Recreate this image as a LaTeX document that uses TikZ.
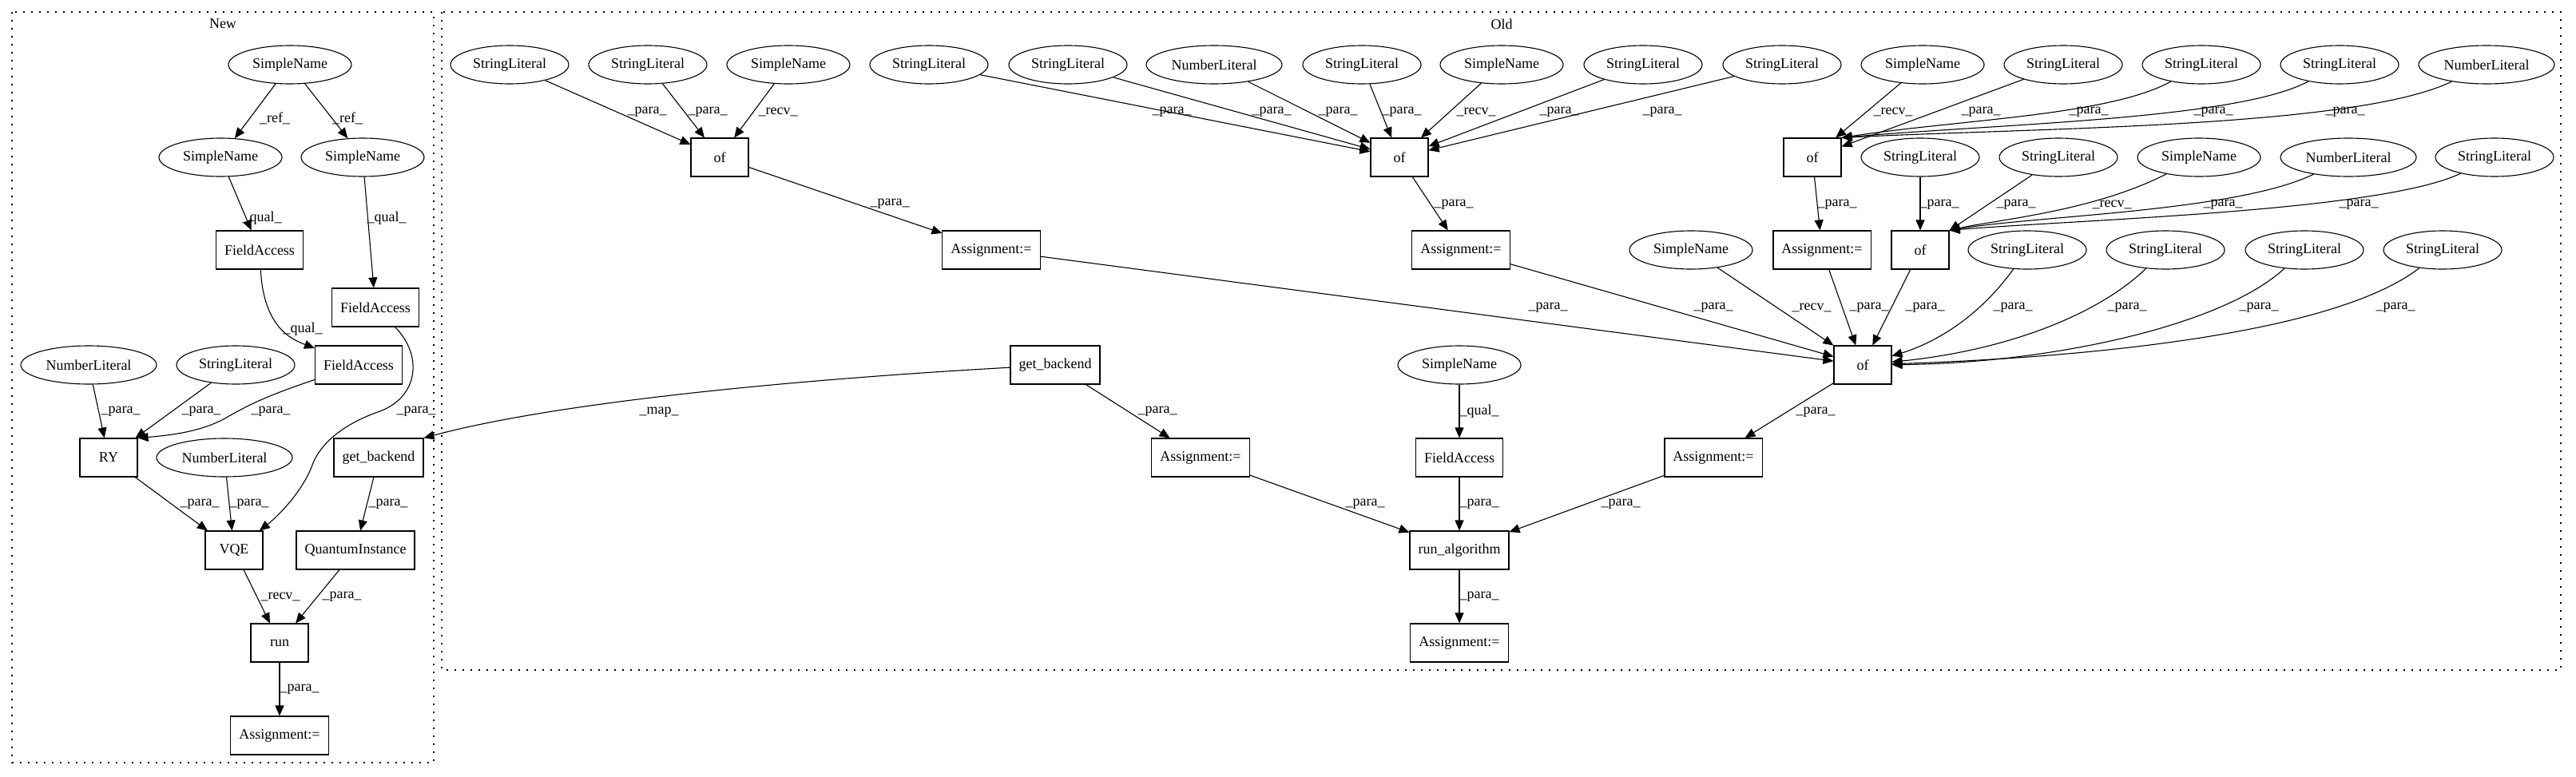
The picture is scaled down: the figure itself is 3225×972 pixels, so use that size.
\documentclass[tikz,border=0pt]{standalone}
\usepackage{fontspec}
\setmainfont{Liberation Serif}
\usetikzlibrary{shapes.geometric,arrows.meta}
\begin{document}
\begin{tikzpicture}[x=1pt,y=-1pt,
  every node/.style={font=\fontsize{18}{20}\selectfont},
  ell/.style={ellipse,draw,line width=1.1pt,minimum height=48pt,inner sep=0pt},
  sl/.style={ell,minimum width=148pt},
  sn/.style={ell,minimum width=154pt},
  nl/.style={ell,minimum width=170pt},
  box/.style={rectangle,draw,line width=1.1pt,minimum height=48pt,minimum width=72pt,inner xsep=10.5pt,inner ysep=0pt},
  edg/.style={line width=1.1pt,-{Triangle[length=13pt,width=11pt]}},
  lbl/.style={inner sep=0pt},
  clus/.style={line width=1.3pt,dash pattern=on 2pt off 8pt}
]
\fill[white] (0,0) rectangle (3225,972);
% clusters
\draw[clus] (15,15) rectangle (543,955);
\draw[clus] (553,15) rectangle (3206,839);
\node (newlbl) at (279,30) {New};
\node (oldlbl) at (1880,30) {Old};

% ---------- New ----------
\node[sn] (nsn0) at (363,81) {SimpleName};
\node[sn] (nsn1) at (276,197) {SimpleName};
\node[sn] (nsn2) at (454,197) {SimpleName};
\node[box] (nfa1) at (325,313) {FieldAccess};
\node[box] (nfa2) at (470,385) {FieldAccess};
\node[box] (nfa3) at (449,457) {FieldAccess};
\node[nl] (nnl1) at (111,457) {NumberLiteral};
\node[sl] (nsl1) at (295,457) {StringLiteral};
\node[box] (nry) at (136,573) {RY};
\node[nl] (nnl2) at (281,573) {NumberLiteral};
\node[box] (ngb) at (474,573) {get\_backend};
\node[box] (nvqe) at (293,689) {VQE};
\node[box] (nqi) at (445,689) {QuantumInstance};
\node[box] (nrun) at (350,805) {run};
\node[box] (nasg) at (350,921) {Assignment:=};

\draw[edg] (nsn0) -- (nsn1) node[lbl,at={(344,148)}] {\_ref\_};
\draw[edg] (nsn0) -- (nsn2) node[lbl,at={(435,148)}] {\_ref\_};
\draw[edg] (nsn1) -- (nfa1) node[lbl,at={(328,273)}] {\_qual\_};
\draw[edg] (nsn2) -- (nfa2) node[lbl,at={(484,273)}] {\_qual\_};
\draw[edg] (nfa1) .. controls (330,410) and (365,425) .. (nfa3) node[lbl,at={(379,412)}] {\_qual\_};
\draw[edg] (nnl1) -- (nry) node[lbl,at={(151,515)}] {\_para\_};
\draw[edg] (nsl1) -- (nry) node[lbl,at={(252,515)}] {\_para\_};
\draw[edg] (nfa3) .. controls (330,497) and (310,508) .. (285,522) .. controls (255,540) and (215,545) .. (nry.north east) node[lbl,at={(339,515)}] {\_para\_};
\draw[edg] (nfa2) .. controls (530,445) and (525,500) .. (470,517) .. controls (430,532) and (400,555) .. (390,585) .. controls (378,615) and (350,645) .. (nvqe) node[lbl,at={(521,515)}] {\_para\_};
\draw[edg] (nry) -- (nvqe) node[lbl,at={(250,631)}] {\_para\_};
\draw[edg] (nnl2) -- (nvqe) node[lbl,at={(312,631)}] {\_para\_};
\draw[edg] (ngb) -- (nqi) node[lbl,at={(486,631)}] {\_para\_};
\draw[edg] (nvqe) -- (nrun) node[lbl,at={(351,747)}] {\_recv\_};
\draw[edg] (nqi) -- (nrun) node[lbl,at={(428,747)}] {\_para\_};
\draw[edg] (nrun) -- (nasg) node[lbl,at={(375,863)}] {\_para\_};

% ---------- Old ----------
% row 1
\node[sl] (osla) at (638,81) {StringLiteral};
\node[sl] (oslb) at (811,81) {StringLiteral};
\node[sn] (osnc) at (987,81) {SimpleName};
\node[sl] (ot1) at (1163,81) {StringLiteral};
\node[sl] (ot2) at (1337,81) {StringLiteral};
\node[nl] (ot3) at (1520,81) {NumberLiteral};
\node[sl] (ot4) at (1705,81) {StringLiteral};
\node[sn] (ot5) at (1880,81) {SimpleName};
\node[sl] (ot6) at (2057,81) {StringLiteral};
\node[sl] (ot7) at (2231,81) {StringLiteral};
\node[sn] (ou1) at (2407,81) {SimpleName};
\node[sl] (ou2) at (2583,81) {StringLiteral};
\node[sl] (ou3) at (2756,81) {StringLiteral};
\node[sl] (ou4) at (2929,81) {StringLiteral};
\node[nl] (ou5) at (3113,81) {NumberLiteral};
% row 2
\node[box] (oof1) at (901,197) {of};
\node[box] (oof2) at (1752,197) {of};
\node[box] (oof3) at (2269,197) {of};
\node[sl] (ov1) at (2404,197) {StringLiteral};
\node[sl] (ov2) at (2577,197) {StringLiteral};
\node[sn] (ov3) at (2753,197) {SimpleName};
\node[nl] (ov4) at (2940,197) {NumberLiteral};
\node[sl] (ov5) at (3123,197) {StringLiteral};
% row 3
\node[box] (oa1) at (1241,313) {Assignment:=};
\node[box] (oa2) at (1829,313) {Assignment:=};
\node[sn] (osn) at (2117,313) {SimpleName};
\node[box] (oa3) at (2281,313) {Assignment:=};
\node[box] (oof4) at (2404,313) {of};
\node[sl] (ow1) at (2538,313) {StringLiteral};
\node[sl] (ow2) at (2711,313) {StringLiteral};
\node[sl] (ow3) at (2885,313) {StringLiteral};
\node[sl] (ow4) at (3058,313) {StringLiteral};
% lower rows
\node[box] (ogb) at (1321,457) {get\_backend};
\node[sn] (osnf) at (1827,457) {SimpleName};
\node[box] (oof5) at (2332,457) {of};
\node[box] (oagb) at (1503,573) {Assignment:=};
\node[box] (ofa) at (1827,573) {FieldAccess};
\node[box] (oa5) at (2145,573) {Assignment:=};
\node[box] (orun) at (1827,689) {run\_algorithm};
\node[box] (oaf) at (1827,805) {Assignment:=};

% of1
\draw[edg] (osla) -- (oof1) node[lbl,at={(810,140)}] {\_para\_};
\draw[edg] (oslb) -- (oof1) node[lbl,at={(886,140)}] {\_para\_};
\draw[edg] (osnc) -- (oof1) node[lbl,at={(974,140)}] {\_recv\_};
\draw[edg] (oof1) -- (oa1) node[lbl,at={(1114,255)}] {\_para\_};
% of2
\draw[edg] (ot1) -- (oof2) node[lbl,at={(1467,140)}] {\_para\_};
\draw[edg] (ot2) -- (oof2) node[lbl,at={(1592,140)}] {\_para\_};
\draw[edg] (ot3) -- (oof2) node[lbl,at={(1675,140)}] {\_para\_};
\draw[edg] (ot4) -- (oof2) node[lbl,at={(1755,140)}] {\_para\_};
\draw[edg] (ot5) -- (oof2) node[lbl,at={(1848,140)}] {\_recv\_};
\draw[edg] (ot6) -- (oof2) node[lbl,at={(1952,140)}] {\_para\_};
\draw[edg] (ot7) -- (oof2) node[lbl,at={(2081,140)}] {\_para\_};
\draw[edg] (oof2) -- (oa2) node[lbl,at={(1820,256)}] {\_para\_};
% of3
\draw[edg] (ou1) -- (oof3) node[lbl,at={(2370,140)}] {\_recv\_};
\draw[edg] (ou2) -- (oof3) node[lbl,at={(2480,140)}] {\_para\_};
\draw[edg] (ou3) .. controls (2640,145) and (2450,150) .. (oof3.north east) node[lbl,at={(2615,140)}] {\_para\_};
\draw[edg] (ou4) .. controls (2800,150) and (2500,155) .. (oof3.north east) node[lbl,at={(2771,140)}] {\_para\_};
\draw[edg] (ou5) .. controls (2950,160) and (2550,160) .. (oof3.north east) node[lbl,at={(2936,140)}] {\_para\_};
\draw[edg] (oof3) -- (oa3) node[lbl,at={(2300,256)}] {\_para\_};
% of4
\draw[edg] (ov1) -- (oof4) node[lbl,at={(2428,256)}] {\_para\_};
\draw[edg] (ov2) -- (oof4) node[lbl,at={(2524,256)}] {\_para\_};
\draw[edg] (ov3) .. controls (2620,265) and (2500,275) .. (oof4.north east) node[lbl,at={(2644,256)}] {\_recv\_};
\draw[edg] (ov4) .. controls (2800,265) and (2550,270) .. (oof4.north east) node[lbl,at={(2783,256)}] {\_para\_};
\draw[edg] (ov5) .. controls (2980,265) and (2600,275) .. (oof4.north east) node[lbl,at={(2953,256)}] {\_para\_};
% of5
\draw[edg] (oa1) -- (oof5) node[lbl,at={(1938,385)}] {\_para\_};
\draw[edg] (oa2) -- (oof5) node[lbl,at={(2145,385)}] {\_para\_};
\draw[edg] (osn) -- (oof5) node[lbl,at={(2268,385)}] {\_recv\_};
\draw[edg] (oa3) -- (oof5) node[lbl,at={(2340,385)}] {\_para\_};
\draw[edg] (oof4) -- (oof5) node[lbl,at={(2410,385)}] {\_para\_};
\draw[edg] (ow1) .. controls (2475,400) and (2420,430) .. (oof5) node[lbl,at={(2520,385)}] {\_para\_};
\draw[edg] (ow2) .. controls (2620,400) and (2500,440) .. (oof5) node[lbl,at={(2663,385)}] {\_para\_};
\draw[edg] (ow3) .. controls (2780,410) and (2560,455) .. (oof5) node[lbl,at={(2828,385)}] {\_para\_};
\draw[edg] (ow4) .. controls (2920,420) and (2600,448) .. (oof5) node[lbl,at={(2999,385)}] {\_para\_};
% lower
\draw[edg] (oof5) -- (oa5) node[lbl,at={(2273,516)}] {\_para\_};
\draw[edg] (ogb) -- (oagb) node[lbl,at={(1449,515)}] {\_para\_};
\draw[edg] (osnf) -- (ofa) node[lbl,at={(1852,515)}] {\_qual\_};
\draw[edg] (oagb) -- (orun) node[lbl,at={(1709,631)}] {\_para\_};
\draw[edg] (ofa) -- (orun) node[lbl,at={(1852,631)}] {\_para\_};
\draw[edg] (oa5) -- (orun) node[lbl,at={(2029,631)}] {\_para\_};
\draw[edg] (orun) -- (oaf) node[lbl,at={(1852,747)}] {\_para\_};
% map
\draw[edg] (ogb) .. controls (1000,475) and (700,503) .. (ngb.north east) node[lbl,at={(825,516)}] {\_map\_};
\end{tikzpicture}
\end{document}
